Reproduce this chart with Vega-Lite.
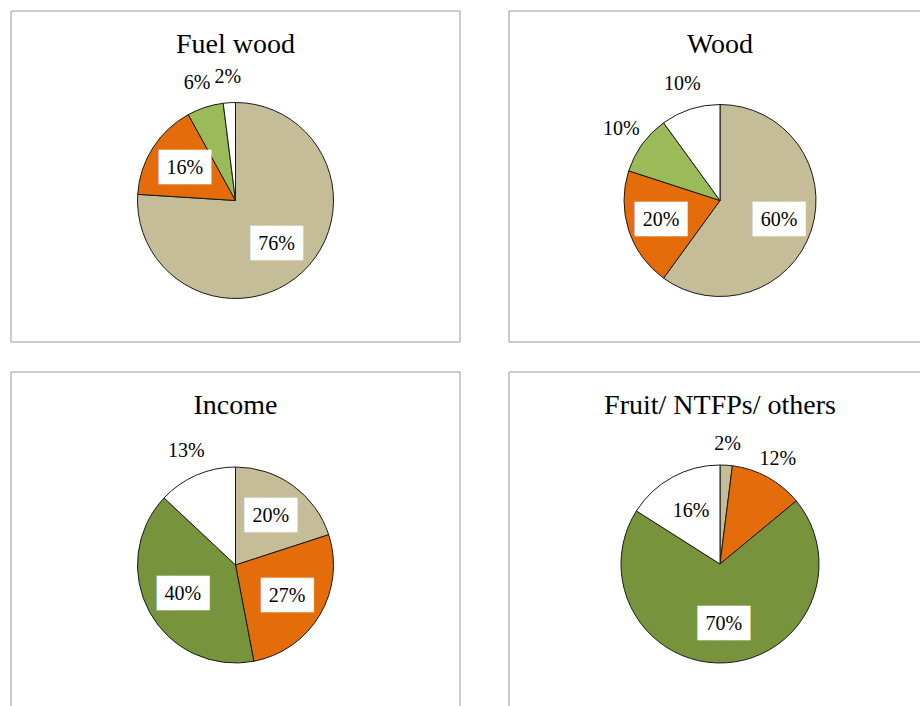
{
  "$schema": "https://vega.github.io/schema/vega-lite/v6.json",
  "padding": {"left": 10, "top": 10, "right": 0, "bottom": 0},
  "background": "white",
  "datasets": {
    "fuel": [
      {"cat": "Group A", "share": 0.76},
      {"cat": "Group B", "share": 0.16},
      {"cat": "Group C", "share": 0.06},
      {"cat": "Group D", "share": 0.02}
    ],
    "wood": [
      {"cat": "Group A", "share": 0.60},
      {"cat": "Group B", "share": 0.20},
      {"cat": "Group C", "share": 0.10},
      {"cat": "Group D", "share": 0.10}
    ],
    "income": [
      {"cat": "Group A", "share": 0.20},
      {"cat": "Group B", "share": 0.27},
      {"cat": "Group C", "share": 0.40},
      {"cat": "Group D", "share": 0.13}
    ],
    "fruit": [
      {"cat": "Group A", "share": 0.02},
      {"cat": "Group B", "share": 0.12},
      {"cat": "Group C", "share": 0.70},
      {"cat": "Group D", "share": 0.16}
    ],
    "frame": [{"box": 1}]
  },
  "columns": 2,
  "spacing": {"row": 28, "column": 47},
  "resolve": {"scale": {"color": "independent", "theta": "independent"}},
  "concat": [
    {
      "width": 449, "height": 331,
      "title": {"text": "Fuel wood"},
      "layer": [
        {"data": {"name": "frame"}, "mark": {"type": "rect", "fill": null, "stroke": "#999999", "strokeWidth": 1},
          "encoding": {"x": {"value": 0}, "x2": {"value": "width"}, "y": {"value": 0}, "y2": {"value": "height"}}},
        {"data": {"name": "fuel"}, "mark": {"type": "arc", "outerRadius": 98, "stroke": "#1a1a1a", "strokeWidth": 1, "yOffset": 24},
          "encoding": {
            "theta": {"field": "share", "type": "quantitative", "stack": true},
            "order": {"field": "cat", "type": "ordinal", "sort": "ascending"},
            "color": {"field": "cat", "type": "nominal", "legend": null,
              "scale": {"domain": ["Group A", "Group B", "Group C", "Group D"], "range": ["#C4BD97", "#E46C0A", "#9BBB59", "#FFFFFF"]}}
          }},
        {"data": {"name": "fuel"}, "mark": {"type": "text", "text": "███", "font": "DejaVu Sans Mono", "fontSize": 29, "radius": 60, "yOffset": 24, "color": "white"},
          "encoding": {
            "theta": {"field": "share", "type": "quantitative", "stack": true},
            "order": {"field": "cat", "type": "ordinal", "sort": "ascending"},
            "opacity": {"condition": {"test": "datum.share >= 0.15 && datum.cat != 'Group D'", "value": 1}, "value": 0}}},
        {"data": {"name": "fuel"}, "mark": {"type": "text", "font": "Liberation Serif", "fontSize": 20, "radius": 60, "yOffset": 24, "color": "black"},
          "encoding": {
            "theta": {"field": "share", "type": "quantitative", "stack": true},
            "order": {"field": "cat", "type": "ordinal", "sort": "ascending"},
            "text": {"field": "share", "type": "quantitative", "format": ".0%"},
            "opacity": {"condition": {"test": "datum.share >= 0.15", "value": 1}, "value": 0}}},
        {"data": {"name": "fuel"}, "mark": {"type": "text", "font": "Liberation Serif", "fontSize": 20, "radius": 124, "yOffset": 24, "color": "black"},
          "encoding": {
            "theta": {"field": "share", "type": "quantitative", "stack": true},
            "order": {"field": "cat", "type": "ordinal", "sort": "ascending"},
            "text": {"field": "share", "type": "quantitative", "format": ".0%"},
            "opacity": {"condition": {"test": "datum.share < 0.15", "value": 1}, "value": 0}}}
      ]
    },
    {
      "width": 422, "height": 331,
      "title": {"text": "Wood"},
      "layer": [
        {"data": {"name": "frame"}, "mark": {"type": "rect", "fill": null, "stroke": "#999999", "strokeWidth": 1},
          "encoding": {"x": {"value": 0}, "x2": {"value": "width"}, "y": {"value": 0}, "y2": {"value": "height"}}},
        {"data": {"name": "wood"}, "mark": {"type": "arc", "outerRadius": 96, "stroke": "#1a1a1a", "strokeWidth": 1, "yOffset": 24},
          "encoding": {
            "theta": {"field": "share", "type": "quantitative", "stack": true},
            "order": {"field": "cat", "type": "ordinal", "sort": "ascending"},
            "color": {"field": "cat", "type": "nominal", "legend": null,
              "scale": {"domain": ["Group A", "Group B", "Group C", "Group D"], "range": ["#C4BD97", "#E46C0A", "#9BBB59", "#FFFFFF"]}}
          }},
        {"data": {"name": "wood"}, "mark": {"type": "text", "text": "███", "font": "DejaVu Sans Mono", "fontSize": 29, "radius": 62, "yOffset": 24, "color": "white"},
          "encoding": {
            "theta": {"field": "share", "type": "quantitative", "stack": true},
            "order": {"field": "cat", "type": "ordinal", "sort": "ascending"},
            "opacity": {"condition": {"test": "datum.share >= 0.15 && datum.cat != 'Group D'", "value": 1}, "value": 0}}},
        {"data": {"name": "wood"}, "mark": {"type": "text", "font": "Liberation Serif", "fontSize": 20, "radius": 62, "yOffset": 24, "color": "black"},
          "encoding": {
            "theta": {"field": "share", "type": "quantitative", "stack": true},
            "order": {"field": "cat", "type": "ordinal", "sort": "ascending"},
            "text": {"field": "share", "type": "quantitative", "format": ".0%"},
            "opacity": {"condition": {"test": "datum.share >= 0.15", "value": 1}, "value": 0}}},
        {"data": {"name": "wood"}, "mark": {"type": "text", "font": "Liberation Serif", "fontSize": 20, "radius": 122, "yOffset": 24, "color": "black"},
          "encoding": {
            "theta": {"field": "share", "type": "quantitative", "stack": true},
            "order": {"field": "cat", "type": "ordinal", "sort": "ascending"},
            "text": {"field": "share", "type": "quantitative", "format": ".0%"},
            "opacity": {"condition": {"test": "datum.share < 0.15", "value": 1}, "value": 0}}}
      ]
    },
    {
      "width": 449, "height": 340,
      "title": {"text": "Income"},
      "layer": [
        {"data": {"name": "frame"}, "mark": {"type": "rect", "fill": null, "stroke": "#999999", "strokeWidth": 1},
          "encoding": {"x": {"value": 0}, "x2": {"value": "width"}, "y": {"value": 0}, "y2": {"value": "height"}}},
        {"data": {"name": "income"}, "mark": {"type": "arc", "outerRadius": 98, "stroke": "#1a1a1a", "strokeWidth": 1, "yOffset": 23},
          "encoding": {
            "theta": {"field": "share", "type": "quantitative", "stack": true},
            "order": {"field": "cat", "type": "ordinal", "sort": "ascending"},
            "color": {"field": "cat", "type": "nominal", "legend": null,
              "scale": {"domain": ["Group A", "Group B", "Group C", "Group D"], "range": ["#C4BD97", "#E46C0A", "#77933C", "#FFFFFF"]}}
          }},
        {"data": {"name": "income"}, "mark": {"type": "text", "text": "███", "font": "DejaVu Sans Mono", "fontSize": 29, "radius": 60, "yOffset": 23, "color": "white"},
          "encoding": {
            "theta": {"field": "share", "type": "quantitative", "stack": true},
            "order": {"field": "cat", "type": "ordinal", "sort": "ascending"},
            "opacity": {"condition": {"test": "datum.share >= 0.15 && datum.cat != 'Group D'", "value": 1}, "value": 0}}},
        {"data": {"name": "income"}, "mark": {"type": "text", "font": "Liberation Serif", "fontSize": 20, "radius": 60, "yOffset": 23, "color": "black"},
          "encoding": {
            "theta": {"field": "share", "type": "quantitative", "stack": true},
            "order": {"field": "cat", "type": "ordinal", "sort": "ascending"},
            "text": {"field": "share", "type": "quantitative", "format": ".0%"},
            "opacity": {"condition": {"test": "datum.share >= 0.15", "value": 1}, "value": 0}}},
        {"data": {"name": "income"}, "mark": {"type": "text", "font": "Liberation Serif", "fontSize": 20, "radius": 124, "yOffset": 23, "color": "black"},
          "encoding": {
            "theta": {"field": "share", "type": "quantitative", "stack": true},
            "order": {"field": "cat", "type": "ordinal", "sort": "ascending"},
            "text": {"field": "share", "type": "quantitative", "format": ".0%"},
            "opacity": {"condition": {"test": "datum.share < 0.15", "value": 1}, "value": 0}}}
      ]
    },
    {
      "width": 422, "height": 340,
      "title": {"text": "Fruit/ NTFPs/ others"},
      "layer": [
        {"data": {"name": "frame"}, "mark": {"type": "rect", "fill": null, "stroke": "#999999", "strokeWidth": 1},
          "encoding": {"x": {"value": 0}, "x2": {"value": "width"}, "y": {"value": 0}, "y2": {"value": "height"}}},
        {"data": {"name": "fruit"}, "mark": {"type": "arc", "outerRadius": 99, "stroke": "#1a1a1a", "strokeWidth": 1, "yOffset": 22},
          "encoding": {
            "theta": {"field": "share", "type": "quantitative", "stack": true},
            "order": {"field": "cat", "type": "ordinal", "sort": "ascending"},
            "color": {"field": "cat", "type": "nominal", "legend": null,
              "scale": {"domain": ["Group A", "Group B", "Group C", "Group D"], "range": ["#C4BD97", "#E46C0A", "#77933C", "#FFFFFF"]}}
          }},
        {"data": {"name": "fruit"}, "mark": {"type": "text", "text": "███", "font": "DejaVu Sans Mono", "fontSize": 29, "radius": 60, "yOffset": 22, "color": "white"},
          "encoding": {
            "theta": {"field": "share", "type": "quantitative", "stack": true},
            "order": {"field": "cat", "type": "ordinal", "sort": "ascending"},
            "opacity": {"condition": {"test": "datum.share >= 0.15 && datum.cat != 'Group D'", "value": 1}, "value": 0}}},
        {"data": {"name": "fruit"}, "mark": {"type": "text", "font": "Liberation Serif", "fontSize": 20, "radius": 60, "yOffset": 22, "color": "black"},
          "encoding": {
            "theta": {"field": "share", "type": "quantitative", "stack": true},
            "order": {"field": "cat", "type": "ordinal", "sort": "ascending"},
            "text": {"field": "share", "type": "quantitative", "format": ".0%"},
            "opacity": {"condition": {"test": "datum.share >= 0.15", "value": 1}, "value": 0}}},
        {"data": {"name": "fruit"}, "mark": {"type": "text", "font": "Liberation Serif", "fontSize": 20, "radius": 120, "yOffset": 22, "color": "black"},
          "encoding": {
            "theta": {"field": "share", "type": "quantitative", "stack": true},
            "order": {"field": "cat", "type": "ordinal", "sort": "ascending"},
            "text": {"field": "share", "type": "quantitative", "format": ".0%"},
            "opacity": {"condition": {"test": "datum.share < 0.15", "value": 1}, "value": 0}}}
      ]
    }
  ],
  "config": {
    "view": {"stroke": null},
    "title": {"font": "Liberation Serif", "fontSize": 28, "fontWeight": "normal", "color": "black", "anchor": "middle", "baseline": "alphabetic", "offset": -48}
  }
}
